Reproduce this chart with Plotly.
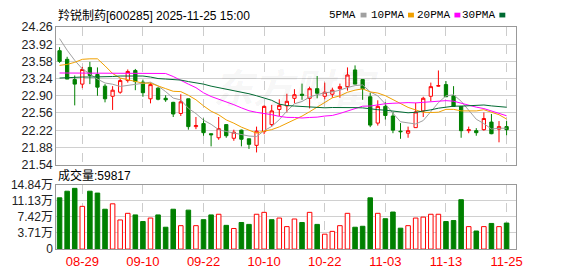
import plotly.graph_objects as go

# ---------------- data ----------------
dates = ["08-26", "08-27", "08-28", "08-29", "09-01", "09-02", "09-03", "09-04", "09-05", "09-08",
         "09-09", "09-10", "09-11", "09-12", "09-15", "09-16", "09-17", "09-18", "09-19", "09-22",
         "09-23", "09-24", "09-25", "09-26", "09-29", "09-30", "10-09", "10-10", "10-13", "10-14",
         "10-15", "10-16", "10-17", "10-20", "10-21", "10-22", "10-23", "10-24", "10-27", "10-28",
         "10-29", "10-30", "10-31", "11-03", "11-04", "11-05", "11-06", "11-07", "11-10", "11-11",
         "11-12", "11-13", "11-14", "11-17", "11-18", "11-19", "11-20", "11-21", "11-24", "11-25"]

opens = [23.79, 23.62, 23.22, 23.13, 23.46, 23.32, 23.09, 22.89, 22.97, 23.20,
         23.40, 23.17, 22.84, 23.05, 22.85, 22.77, 22.55, 22.84, 22.29, 22.35,
         22.15, 22.07, 22.33, 22.06, 22.22, 22.05, 21.92, 22.19, 22.33, 22.63,
         22.70, 22.85, 22.93, 22.85, 23.04, 22.89, 22.93, 23.04, 23.08, 23.41,
         23.22, 22.88, 22.36, 22.69, 22.50, 22.20, 22.16, 22.27, 22.60, 22.89,
         23.09, 23.12, 22.90, 22.69, 22.21, 22.21, 22.23, 22.38, 22.24, 22.29]
highs = [23.86, 23.67, 23.30, 23.47, 23.57, 23.46, 23.13, 23.09, 23.24, 23.42,
         23.43, 23.22, 23.16, 23.07, 22.91, 22.78, 22.93, 22.84, 22.48, 22.45,
         22.15, 22.48, 22.33, 22.23, 22.23, 22.05, 22.29, 22.71, 22.72, 22.83,
         22.94, 23.03, 23.14, 23.08, 23.29, 23.16, 23.06, 23.14, 23.46, 23.50,
         23.22, 22.96, 22.81, 22.77, 22.58, 22.36, 22.29, 22.76, 22.88, 23.16,
         23.40, 23.19, 23.09, 22.69, 22.29, 22.26, 22.57, 22.54, 22.40, 22.40]
lows = [23.55, 23.23, 22.71, 23.05, 23.13, 22.90, 22.77, 22.62, 22.94, 23.16,
        23.01, 22.88, 22.75, 22.81, 22.78, 22.48, 22.50, 22.23, 22.24, 22.11,
        21.90, 22.03, 22.07, 22.01, 21.90, 21.85, 21.78, 22.14, 22.29, 22.50,
        22.57, 22.75, 22.82, 22.65, 22.85, 22.83, 22.86, 22.86, 23.00, 23.13,
        22.82, 22.28, 22.31, 22.43, 22.16, 22.05, 22.07, 22.27, 22.48, 22.79,
        23.08, 22.88, 22.69, 22.07, 22.16, 22.11, 22.21, 22.14, 21.98, 22.12]
closes = [23.58, 23.23, 23.13, 23.42, 23.30, 23.07, 22.84, 23.01, 23.20, 23.38,
          23.18, 22.96, 23.12, 22.83, 22.82, 22.54, 22.78, 22.29, 22.31, 22.17,
          22.13, 22.25, 22.11, 22.18, 22.04, 21.94, 22.20, 22.69, 22.60, 22.71,
          22.79, 22.92, 22.91, 23.04, 22.95, 22.97, 23.01, 23.08, 23.31, 23.13,
          23.04, 22.32, 22.69, 22.51, 22.22, 22.19, 22.21, 22.58, 22.85, 23.08,
          23.10, 22.88, 22.69, 22.21, 22.23, 22.17, 22.45, 22.15, 22.29, 22.23]

# volume in 万 (10k lots)
volumes = [11.78, 13.30, 13.96, 9.82, 13.30, 12.87, 9.16, 10.40, 6.69, 8.22,
           7.85, 6.33, 7.13, 7.85, 5.02, 9.16, 5.38, 8.95, 5.38, 6.76,
           7.85, 8.00, 5.45, 4.73, 6.11, 5.67, 8.00, 8.44, 6.76, 7.13,
           5.16, 6.91, 6.11, 8.44, 5.67, 3.42, 4.07, 5.38, 8.22, 5.02,
           5.24, 11.78, 8.22, 6.98, 8.51, 4.80, 5.38, 7.13, 7.35, 8.00,
           8.00, 6.33, 6.55, 11.35, 5.16, 4.15, 5.16, 5.89, 5.16, 5.98]

ma5_lead = [24.03, 23.80, 23.60, 23.43]
ma10_lead = [23.50, 23.52, 23.56, 23.62, 23.63, 23.63, 23.49, 23.34, 23.25]
ma20_lead = [23.35, 23.35, 23.35, 23.35, 23.35, 23.34, 23.34, 23.34, 23.34, 23.34,
             23.34, 23.35, 23.35, 23.35, 23.34, 23.28, 23.20, 23.13, 23.06]
ma30_lead = [23.25, 23.26, 23.27, 23.27, 23.27, 23.27, 23.28, 23.28, 23.29, 23.29,
             23.29, 23.29, 23.27, 23.24, 23.23, 23.22, 23.21, 23.18, 23.16, 23.13,
             23.09, 23.06, 23.03, 23.01, 22.98, 22.94, 22.90, 22.86, 22.81]

tick_labels = ["08-29", "09-10", "09-22", "10-10", "10-22", "11-03", "11-13", "11-25"]
price_ticks = [21.54, 21.88, 22.22, 22.56, 22.90, 23.24, 23.58, 23.92, 24.26]
vol_ticks = [0, 3.71, 7.42, 11.13, 14.84]
vol_tick_text = ["0", "3.71万", "7.42万", "11.13万", "14.84万"]

title_text = "羚锐制药[600285] 2025-11-25 15:00"
vol_title = "成交量:59817"
ma_names = ["5PMA", "10PMA", "20PMA", "30PMA"]

# ---------------- styles ----------------
RED = "#ff0000"
GREEN = "#008000"
MA_COLORS = ["#a0a0a0", "#f0a000", "#ff00ff", "#006a32"]
W, H = 578, 276
X0, X1 = 57, 522
Y_MAIN = (21, 166)
Y_VOL = (187, 255)


def ma(lead, n):
    out = list(lead)
    for i in range(len(lead), len(closes)):
        out.append(sum(closes[i - n + 1:i + 1]) / n)
    return out


mas = [ma(ma5_lead, 5), ma(ma10_lead, 10), ma(ma20_lead, 20), ma(ma30_lead, 30)]

up = []
for i, c in enumerate(closes):
    prev = closes[i - 1] if i > 0 else opens[i]
    up.append(c >= prev)

fig = go.Figure()

fig.add_trace(go.Candlestick(
    x=dates, open=opens, high=highs, low=lows, close=closes,
    increasing=dict(line=dict(color=RED, width=1), fillcolor="white"),
    decreasing=dict(line=dict(color=GREEN, width=1), fillcolor=GREEN),
    whiskerwidth=0, showlegend=False, xaxis="x", yaxis="y"))

for m, col in zip(mas, MA_COLORS):
    fig.add_trace(go.Scatter(x=dates, y=m, mode="lines", line=dict(color=col, width=1),
                             showlegend=False, xaxis="x", yaxis="y", hoverinfo="skip"))

fig.add_trace(go.Bar(
    x=dates, y=volumes, width=0.6,
    marker=dict(color=["white" if u else GREEN for u in up],
                line=dict(color=[RED if u else GREEN for u in up], width=1)),
    showlegend=False, xaxis="x2", yaxis="y2"))


def px_x(p):
    return p / W


def px_y(p):
    return 1 - p / H


xr = [-0.43, 60.2]
common_x = dict(domain=[px_x(X0), px_x(X1)], range=xr, type="category",
                tickvals=tick_labels, showgrid=True, gridcolor="#cccccc", griddash="dash",
                gridwidth=1, showline=True, mirror=True, linecolor="#999999", linewidth=1,
                zeroline=False, ticks="", fixedrange=True)

fig.update_layout(
    width=W, height=H, margin=dict(l=0, r=0, t=0, b=0),
    paper_bgcolor="white", plot_bgcolor="white",
    font=dict(family="Liberation Sans, Arial, Noto Sans CJK SC", size=12, color="#222"),
    boxgap=0.38,
    xaxis=dict(**common_x, anchor="y", showticklabels=False, rangeslider=dict(visible=False)),
    xaxis2=dict(**common_x, anchor="y2", showticklabels=True,
                tickfont=dict(color=RED, size=13, family="Liberation Sans, Arial")),
    yaxis=dict(domain=[px_y(Y_MAIN[1]), px_y(Y_MAIN[0])], range=[price_ticks[0], price_ticks[-1]],
               tickvals=price_ticks, ticktext=[f"{v:.2f}" for v in price_ticks],
               showgrid=True, gridcolor="#d0d0d0", showline=True, mirror=True,
               linecolor="#999999", zeroline=False, ticks="",
               tickfont=dict(size=12.5, color="#222")),
    yaxis2=dict(domain=[px_y(Y_VOL[1]), px_y(Y_VOL[0])], range=[vol_ticks[0], vol_ticks[-1]],
                tickvals=vol_ticks, ticktext=vol_tick_text,
                showgrid=True, gridcolor="#d0d0d0", showline=True, mirror=True,
                linecolor="#999999", zeroline=False, ticks="",
                tickfont=dict(size=12, color="#222")),
)

ann = [
    dict(x=px_x(57), y=px_y(8.5), text=title_text, xanchor="left", yanchor="middle",
         font=dict(size=12, color="#000")),
    dict(x=px_x(57), y=px_y(177.5), text=vol_title, xanchor="left", yanchor="middle",
         font=dict(size=12, color="#000")),
    dict(x=px_x(300), y=px_y(86), text="<i><b>东方财富</b></i>", xanchor="center", yanchor="middle",
         font=dict(size=40, color="rgba(0,0,0,0.05)")),
]
square_left = [365, 413, 460, 505.5]
shapes = []
for name, col, sl in zip(ma_names, MA_COLORS, square_left):
    ann.append(dict(x=px_x(sl - 2.5), y=px_y(8.5), text=name, xanchor="right", yanchor="middle",
                    font=dict(size=11, color="#000", family="Liberation Mono, monospace")))
    shapes.append(dict(type="rect", xref="paper", yref="paper",
                       x0=px_x(sl), x1=px_x(sl + 6), y0=px_y(11), y1=px_y(6),
                       fillcolor=col, line=dict(width=0)))
for a in ann:
    a.update(xref="paper", yref="paper", showarrow=False)
fig.update_layout(annotations=ann, shapes=shapes)

fig.write_html("out.html")
